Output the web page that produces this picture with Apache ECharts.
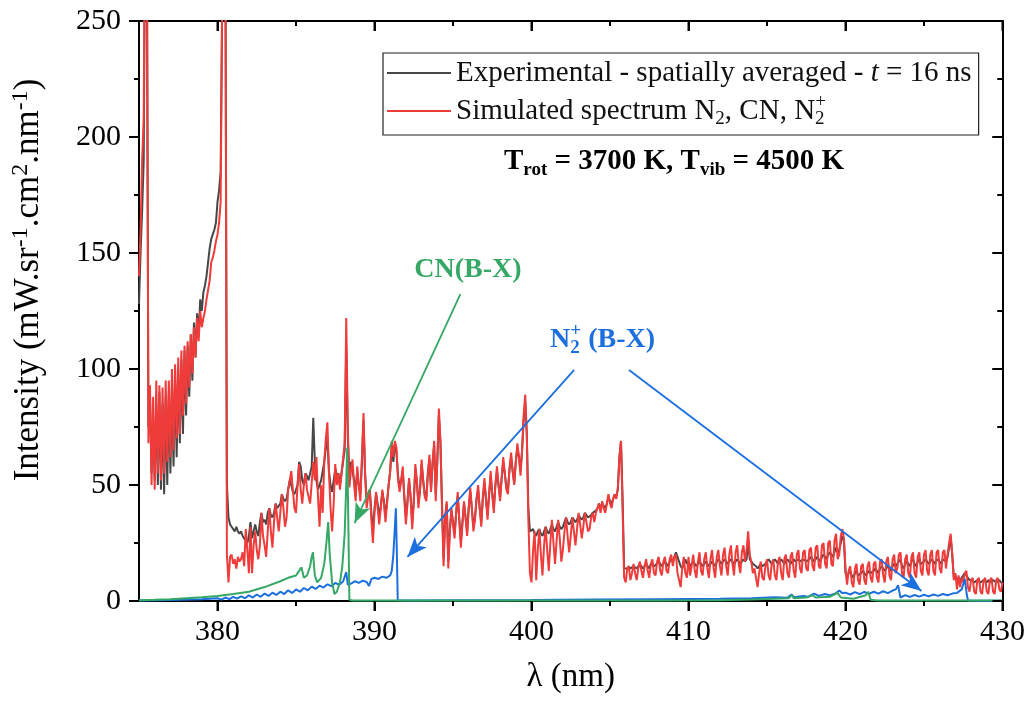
<!DOCTYPE html>
<html><head><meta charset="utf-8">
<script src="https://cdn.jsdelivr.net/npm/echarts@6/dist/echarts.min.js"></script>
<style>html,body{margin:0;padding:0;background:#fff}#c{width:1028px;height:702px}</style>
</head><body><div id="c"></div>
<script>
// sampling grid of the two spectra: 375.0 ... 430.0 nm, every 0.1 nm
const wlStart = 375, wlStep = 0.1;
const simulated = [
140,160,190,208,320,300,68,93,50,88,
48,95,55,93,52,92,55,95,60,95,
62,100,65,102,70,105,72,108,80,110,
85,112,92,115,98,118,105,122,112,125,
118,122,125,130,134,138,146,148,151,155,
158,163,172,260,320,290,20,8,19,20,
16,18,14,19,17,18,21,15,31,22,
12,32,12,24,30,22,18,24,38,28,
24,19,30,40,30,23,34,42,36,30,
38,46,40,32,36,48,52,56,48,40,
38,50,59,48,42,50,55,48,45,42,
42,60,52,62,45,32,50,38,60,70,
77,55,40,30,42,59,50,55,48,55,
55,68,122,75,49,56,61,50,43,58,
50,43,62,81,55,40,45,48,35,25,
38,47,40,33,40,48,42,34,42,50,
56,69,62,69,66,52,47,52,58,44,
33,42,53,45,31,42,59,52,40,48,
61,52,45,43,55,63,47,60,69,43,
60,83,69,40,15,35,43,14,30,40,
33,27,38,47,35,23,33,43,36,28,
40,49,40,30,35,44,50,40,32,45,
53,44,35,46,56,46,38,50,58,50,
43,53,62,55,48,46,57,64,56,50,
60,68,62,54,65,80,89,72,35,12,
8,22,30,9,22,31,20,11,24,32,
22,13,25,35,25,16,26,35,27,17,
22,30,36,28,21,28,36,30,24,31,
38,33,27,32,38,34,30,31,36,38,
34,38,40,42,38,43,40,38,42,46,
42,40,44,46,44,49,62,69,40,10,
8,14,15,9,12,16,12,9,14,17,
13,10,15,18,13,10,16,18,12,11,
17,19,13,11,17,19,13,12,18,20,
15,19,20,12,9,6,14,19,12,10,
19,11,15,20,13,10,17,21,13,11,
18,21,14,10,18,22,14,10,19,22,
15,11,20,23,15,11,20,24,16,11,
21,24,16,12,21,24,17,22,30,20,
17,12,14,10,6,12,17,10,9,15,
18,11,9,16,18,11,9,17,19,12,
9,18,20,12,10,19,21,13,10,20,
22,14,12,21,22,14,13,22,23,15,
13,23,24,15,14,24,25,16,14,25,
26,16,15,26,29,18,20,28,31,27,
14,7,13,15,8,6,14,16,9,7,
15,16,9,7,15,17,10,8,16,17,
10,8,17,18,11,8,17,19,11,9,
18,20,12,14,20,21,12,10,18,20,
12,10,19,21,12,10,19,21,13,11,
20,22,13,11,20,22,13,11,21,22,
14,12,21,22,14,20,25,29,20,9,
12,5,11,6,10,8,12,13,6,4,
9,10,4,3,9,10,4,3,9,10,
4,3,9,10,4,3,9,10,5,4,
8];
const experimental = [
128,150,168,190,300,280,75,88,55,80,
52,85,50,90,48,85,46,88,50,90,
55,92,58,95,62,100,68,104,72,108,
80,110,88,115,95,120,105,124,115,130,
125,133,136,140,146,152,156,158,160,163,
172,177,185,260,320,290,50,36,33,32,
31,30,32,30,29,30,28,27,26,25,
28,34,27,30,33,30,28,34,38,34,
35,33,38,40,37,36,38,42,40,40,
42,46,44,43,44,48,52,50,47,46,
46,50,60,58,52,50,55,54,52,52,
58,79,60,52,48,48,52,56,60,66,
70,56,50,47,52,57,54,55,50,55,
55,65,110,70,55,60,60,52,48,56,
50,46,60,78,55,44,46,48,38,30,
40,46,42,36,41,47,43,37,43,50,
56,66,60,67,64,54,49,52,56,45,
36,43,52,45,34,43,57,51,42,48,
59,52,46,45,55,61,48,59,67,46,
60,80,68,42,18,36,42,17,31,39,
34,29,38,45,35,26,34,42,36,30,
40,47,40,32,36,44,48,40,34,44,
51,44,37,46,54,46,40,50,56,50,
45,53,60,55,49,48,57,62,56,51,
60,66,62,56,65,78,86,72,40,30,
30,31,29,28,30,31,29,28,30,32,
30,29,31,33,31,30,32,34,32,31,
32,34,36,34,33,34,36,35,34,35,
37,36,35,36,38,37,36,36,37,38,
38,39,40,42,40,42,41,40,42,45,
43,42,44,46,45,48,62,69,45,14,
14,14,15,14,14,15,15,14,15,16,
15,14,15,16,15,14,16,16,15,15,
16,17,16,15,16,17,16,15,17,18,
17,19,21,19,17,15,14,16,18,16,
17,15,16,17,16,15,16,17,16,15,
16,17,16,15,16,17,16,15,17,18,
17,16,17,18,17,16,17,18,17,16,
17,18,17,16,17,18,17,18,26,18,
17,16,16,15,14,15,16,15,15,16,
17,18,17,16,17,18,17,16,17,18,
17,16,17,18,17,16,17,18,17,17,
18,17,17,18,18,17,17,18,19,18,
17,18,19,18,17,19,20,19,18,20,
21,20,19,21,23,21,22,25,28,26,
12,10,12,13,11,10,12,13,11,11,
12,13,12,11,12,13,12,12,13,14,
13,12,14,15,14,13,14,15,14,13,
15,16,15,16,17,18,15,14,16,17,
16,15,17,18,16,15,17,18,16,16,
17,18,17,16,17,18,17,16,18,18,
17,16,18,18,17,19,23,27,20,10,
11,9,10,9,10,10,12,12,10,9,
9,9,8,8,9,9,8,8,9,9,
8,9,8,8,9,9,8,8,9,8,
8];
// CN(B-X) simulated contribution
const cnWl = [375,376,377,378,379,380,381,382,383,384,384.5,385,385.2,385.35,385.5,385.7,385.9,386.0,386.08,386.2,386.35,386.6,386.8,386.95,387.05,387.15,387.3,387.45,387.6,387.8,387.95,388.1,388.2,388.26,388.32,388.4,388.6,392,396,400,404,408,412,414,415.5,416.4,416.58,416.7,417.5,417.9,418.0,418.1,419.0,419.5,419.6,419.7,420.5,421.3,421.45,421.6,422,426,430];
const cnInt = [0.3,0.5,0.8,1.2,1.6,2.2,3.0,4.0,6.0,8.5,10,11,13,14.5,10,11,15,19,21,11,8,10,16,26,34,20,8,3,4,8,15,29,50,66,40,0.5,0.2,0.2,0.2,0.2,0.2,0.2,0.3,0.6,1,1.2,2.6,1.2,1.5,2.5,3.2,1.5,1.8,3.5,4,1.5,1,2.5,4,0.5,0.2,0.2,0.2];
// N2+(B-X) simulated contribution
const n2pWl = [375,377,379,380,380.25,380.5,380.75,381,381.25,381.5,381.75,382,382.25,382.5,382.75,383,383.25,383.5,383.75,384,384.25,384.5,384.75,385,385.25,385.5,385.75,386,386.25,386.5,386.75,387,387.25,387.5,387.75,388,388.2,388.3,388.5,388.75,389,389.25,389.5,389.65,389.8,390,390.25,390.5,390.75,391,391.1,391.2,391.3,391.36,391.42,391.48,392,396,400,404,408,412,414,415.5,416.3,416.55,416.75,417.3,417.6,418,418.3,418.7,419,419.4,419.6,419.8,420,420.3,420.6,420.9,421.2,421.5,421.8,422.1,422.4,422.7,423,423.2,423.35,423.5,423.8,424.1,424.4,424.7,425,425.3,425.6,425.9,426.2,426.5,426.8,427.1,427.4,427.6,427.72,427.8,428.5,430];
const n2pInt = [0.2,0.4,0.8,1.2,0.6,1.5,0.8,1.8,1.0,2.0,1.2,2.4,1.5,2.8,1.8,3.2,2.2,3.6,2.6,4.0,3.0,4.6,3.5,5.0,4.0,5.6,4.6,6.2,5.2,6.6,5.8,7.2,6.4,7.8,7.0,8.4,12.5,7,7.5,8.5,7.8,8.8,8.2,6.5,9.5,10,9.5,10.5,10,11,13,20,32,40,22,0.3,0.2,0.3,0.4,0.6,0.8,1.0,1.2,1.6,1.4,2.8,1.6,2.2,1.8,3.2,2.2,3.0,2.4,3.4,4.5,3.4,3.6,2.8,3.8,3.0,3.9,3.1,4.0,3.2,4.2,3.4,4.5,5.0,6.8,1.5,2.5,1.8,2.6,1.9,2.7,2.0,2.8,2.2,3.0,2.5,3.2,3.5,5,9.5,3,0.2,0.1,0.1];
const xMajorTicks = [380,390,400,410,420,430];
const xMinorTicks = [385,395,405,415,425];
const yMajorTicks = [0,50,100,150,200,250];
const yMinorTicks = [25,75,125,175,225];
// annotation arrows [start, tip] in data coordinates
const cnArrow = [[395.47,132.3],[388.73,33.6]];
const n2pArrows = [[[402.72,99.6],[392.10,19.0]], [[406.21,99.6],[424.84,4.3]]];

const FF = "'Liberation Serif','Times New Roman',serif";
const GRAY = '#474747', RED = '#f03b3b', GREEN = '#35a865', BLUE = '#1c6fdf';
const EXP_NAME = 'Experimental - spatially averaged - t = 16 ns';
const SIM_NAME = 'Simulated spectrum N2, CN, N2+';

const expData = experimental.map((v,i)=>[+(wlStart+i*wlStep).toFixed(2), v]);
const simData = simulated.map((v,i)=>[+(wlStart+i*wlStep).toFixed(2), v]);
const cnData = cnWl.map((w,i)=>[w, cnInt[i]]);
const n2pData = n2pWl.map((w,i)=>[w, n2pInt[i]]);

const black = {color:'#000', width:2};
function xAx(pos, ticks, len, inside, extra) {
  return Object.assign({
    type:'value', min:375, max:430, interval:5, position:pos,
    axisLine:{show:true, onZero:false, lineStyle:black},
    axisTick:{show:true, customValues:ticks, length:len, inside:inside, lineStyle:black},
    axisLabel:{show:false},
    splitLine:{show:false}
  }, extra||{});
}

const textGraphics = [
  {type:'text', x:674, y:162, z:10, silent:true, style:{
    text:'{b|T}{s|rot}{b| = 3700 K, T}{s|vib}{b| = 4500 K}',
    align:'center', verticalAlign:'middle', fill:'#000',
    rich:{b:{fontFamily:FF, fontSize:29, fontWeight:'bold', lineHeight:36, fill:'#000'},
          s:{fontFamily:FF, fontSize:19, fontWeight:'bold', lineHeight:18, verticalAlign:'bottom', fill:'#000'}}}},
  {type:'text', x:468, y:270, z:10, silent:true, style:{
    text:'CN(B-X)', fontFamily:FF, fontSize:28, fontWeight:'bold', fill:GREEN,
    align:'center', verticalAlign:'middle'}},
  {type:'text', x:550, y:340, z:10, silent:true, style:{
    text:'{b|N}{subz|2}{sup|+}{b| (B-X)}', fill:BLUE,
    align:'left', verticalAlign:'middle',
    rich:{b:{fontFamily:FF, fontSize:28, fontWeight:'bold', lineHeight:36, fill:BLUE},
          subz:{fontFamily:FF, fontSize:19, fontWeight:'bold', lineHeight:18, verticalAlign:'bottom', width:0.1, fill:BLUE},
          sup:{fontFamily:FF, fontSize:19, fontWeight:'bold', lineHeight:18, verticalAlign:'top', fill:BLUE}}}}
];

const chart = echarts.init(document.getElementById('c'), null, {renderer:'canvas'});
chart.setOption({
  animation:false,
  backgroundColor:'#fff',
  grid:{left:139, right:24, top:21, bottom:101},
  legend:{
    data:[EXP_NAME, SIM_NAME], orient:'vertical', left:383, top:53,
    padding:[2,7,6,4], itemGap:2, itemWidth:64, itemHeight:2, icon:'rect',
    borderColor:'#222', borderWidth:1.2, selectedMode:false,
    formatter: n => n===EXP_NAME ? 'Experimental - spatially averaged - {i|t} = 16 ns'
                                 : 'Simulated spectrum N{sub|2}, CN, N{subz|2}{sup|+}',
    textStyle:{fontFamily:FF, fontSize:29, color:'#111', lineHeight:36,
      rich:{
        i:{fontFamily:FF, fontSize:29, fontStyle:'italic', lineHeight:36, color:'#111'},
        sub:{fontFamily:FF, fontSize:19, lineHeight:18, verticalAlign:'bottom', color:'#111'},
        subz:{fontFamily:FF, fontSize:19, lineHeight:18, verticalAlign:'bottom', width:0.1, color:'#111'},
        sup:{fontFamily:FF, fontSize:19, lineHeight:18, verticalAlign:'top', color:'#111'}
      }}
  },
  xAxis:[
    xAx('bottom', xMajorTicks, 10, false, {
      axisLabel:{show:true, customValues:xMajorTicks, fontFamily:FF, fontSize:30, color:'#000', margin:16},
      name:'λ (nm)', nameLocation:'middle', nameGap:60,
      nameTextStyle:{fontFamily:FF, fontSize:33, color:'#000'}
    }),
    xAx('bottom', xMinorTicks, 5, false, {axisLine:{show:false}}),
    xAx('top', xMajorTicks, 10, true),
    xAx('top', xMinorTicks, 5, true, {axisLine:{show:false}})
  ],
  yAxis:[
    {type:'value', min:0, max:250, interval:50, position:'left',
     axisLine:{show:true, onZero:false, lineStyle:black},
     axisTick:{show:true, length:10, lineStyle:black},
     minorTick:{show:true, splitNumber:2, length:5, lineStyle:black},
     axisLabel:{fontFamily:FF, fontSize:30, color:'#000', margin:18},
     splitLine:{show:false}, minorSplitLine:{show:false},
     name:'Intensity (mW.sr{sup|-1}.cm{sup|2}.nm{sup|-1})',
     nameLocation:'middle', nameGap:90, nameRotate:90,
     nameTextStyle:{fontFamily:FF, fontSize:35, color:'#000', lineHeight:40, padding:[0,0,0,62],
       rich:{sup:{fontFamily:FF, fontSize:24, lineHeight:22, verticalAlign:'top', color:'#000'}}}
    },
    {type:'value', min:0, max:250, interval:50, position:'right',
     axisLine:{show:true, onZero:false, lineStyle:black},
     axisTick:{show:true, inside:true, length:10, lineStyle:black},
     minorTick:{show:true, splitNumber:2, length:5, lineStyle:black},
     axisLabel:{show:false}, splitLine:{show:false}}
  ],
  series:[
    {name:EXP_NAME, type:'line', data:expData, symbol:'none', xAxisIndex:0, yAxisIndex:0,
     lineStyle:{color:GRAY, width:2}, itemStyle:{color:GRAY}, z:2},
    {name:SIM_NAME, type:'line', data:simData, symbol:'none', xAxisIndex:0, yAxisIndex:0,
     lineStyle:{color:RED, width:2}, itemStyle:{color:RED}, z:3},
    {name:'N2+ (B-X)', type:'line', data:n2pData, symbol:'none', xAxisIndex:0, yAxisIndex:0,
     lineStyle:{color:BLUE, width:2}, itemStyle:{color:BLUE}, z:4,
     markLine:{silent:true, symbol:['none','arrow'], symbolSize:[12,20], label:{show:false},
       lineStyle:{color:BLUE, width:1.8, type:'solid'},
       data:n2pArrows.map(a=>[{coord:a[0]},{coord:a[1]}])}},
    {name:'CN (B-X)', type:'line', data:cnData, symbol:'none', xAxisIndex:0, yAxisIndex:0,
     lineStyle:{color:GREEN, width:2}, itemStyle:{color:GREEN}, z:5,
     markLine:{silent:true, symbol:['none','arrow'], symbolSize:[12,20], label:{show:false},
       lineStyle:{color:GREEN, width:1.8, type:'solid'},
       data:[[{coord:cnArrow[0]},{coord:cnArrow[1]}]]}}
  ],
  graphic: textGraphics
});

// reinforce the axis tick marks as small filled bars, positioned through the chart's own scales
(function addTickMarks(){
  const px = v => chart.convertToPixel({xAxisIndex:0}, v);
  const py = v => chart.convertToPixel({yAxisIndex:0}, v);
  const xL = px(375), xR = px(430), yB = py(0), yT = py(250);
  const bar = (x,y,w,h) => ({type:'rect', silent:true, z:100,
    shape:{x:x, y:y, width:w, height:h}, style:{fill:'#000', stroke:null}});
  const els = [];
  xMajorTicks.forEach(v => { const x = px(v); els.push(bar(x-1,yB,2,10), bar(x-1,yT,2,10)); });
  xMinorTicks.forEach(v => { const x = px(v); els.push(bar(x-1,yB,2,5), bar(x-1,yT,2,5)); });
  yMajorTicks.forEach(v => { const y = py(v); els.push(bar(xL-10,y-1,10,2), bar(xR-10,y-1,10,2)); });
  yMinorTicks.forEach(v => { const y = py(v); els.push(bar(xL-5,y-1,5,2), bar(xR-5,y-1,5,2)); });
  chart.setOption({graphic: textGraphics.concat(els)});
})();
</script>
</body></html>
